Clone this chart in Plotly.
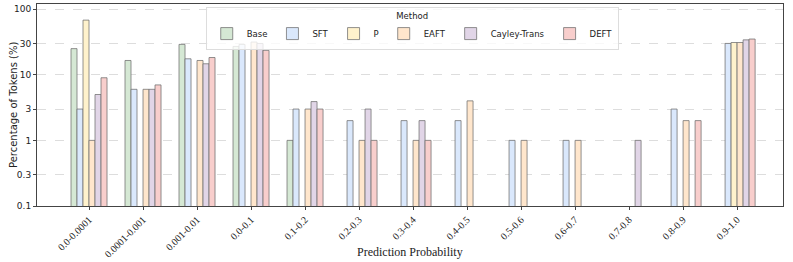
import plotly.graph_objects as go

categories = ["0.0-0.0001", "0.0001-0.001", "0.001-0.01", "0.0-0.1", "0.1-0.2", "0.2-0.3",
              "0.3-0.4", "0.4-0.5", "0.5-0.6", "0.6-0.7", "0.7-0.8", "0.8-0.9", "0.9-1.0"]

base   = [25, 16.5, 29, 27, 1, None, None, None, None, None, None, None, None]
sft    = [3, 6, 17.5, 29, 3, 2, 2, 2, 1, 1, None, 3, 30]
p      = [68, None, None, None, None, None, None, None, None, None, None, None, 31]
eaft   = [1, 6, 16.5, 31.5, 3, 1, 1, 4, 1, 1, None, 2, 31]
cayley = [5, 6, 14.7, 30, 3.9, 3, 2, None, None, None, 1, None, 34]
deft   = [9, 7, 18.3, 23.5, 3, 1, 1, None, None, None, None, 2, 35]

series = [("Base", base, "#d5e8d4"), ("SFT", sft, "#dae8fc"), ("P", p, "#fff2cc"),
          ("EAFT", eaft, "#ffe6cc"), ("Cayley-Trans", cayley, "#e1d5e7"), ("DEFT", deft, "#f8cecc")]

tick_vals = [0.1, 0.3, 1, 3, 10, 30, 100]
tick_text = ["0.1", "0.3", "1", "3", "10", "30", "100"]

fig = go.Figure()
for name, vals, color in series:
    fig.add_trace(go.Bar(
        x=categories, y=vals, name=name,
        marker=dict(color=color, line=dict(color="rgba(110,110,110,0.75)", width=1)),
    ))

W, H = 793, 262
ml, mr, mt, mb = 37, 10, 4, 56
fig.update_layout(
    width=W, height=H,
    margin=dict(l=ml, r=mr, t=mt, b=mb, autoexpand=False),
    plot_bgcolor="white", paper_bgcolor="white",
    barmode="group", bargap=0.333, bargroupgap=0,
    font=dict(family="DejaVu Sans", size=9, color="#222"),
    legend=dict(
        orientation="h", x=0.503, xanchor="center", y=0.985, yanchor="top",
        title=dict(text="Method", side="top center", font=dict(size=8.5)),
        font=dict(size=8.5), bgcolor="rgba(255,255,255,0.8)",
        bordercolor="#dddddd", borderwidth=1, itemwidth=30,
        tracegroupgap=0, valign="middle",
    ),
    showlegend=True,
    annotations=[
        dict(text="Prediction Probability", xref="paper", yref="paper",
             x=0.5, y=-(252 - (H - mb)) / (H - mt - mb), xanchor="center", yanchor="middle",
             showarrow=False, font=dict(family="Liberation Serif", size=12, color="#222")),
        dict(text="Percentage of Tokens (%)", xref="paper", yref="paper",
             x=-(ml - 13) / (W - ml - mr), y=0.5, xanchor="center", yanchor="middle",
             textangle=-90, showarrow=False,
             font=dict(family="DejaVu Sans", size=10, color="#222")),
    ],
)
fig.update_xaxes(
    range=[-0.963, 12.85], tickangle=-45, automargin=False,
    tickfont=dict(family="Liberation Serif", size=10, color="#222"),
    showline=True, linecolor="#444", linewidth=1, mirror=True,
    ticks="outside", ticklen=3, tickcolor="#444", showgrid=False,
)
fig.update_yaxes(
    type="log", range=[-1, 2.078], automargin=False,
    tickvals=tick_vals, ticktext=tick_text,
    tickfont=dict(family="DejaVu Sans", size=9, color="#222"),
    showline=True, linecolor="#444", linewidth=1, mirror=True,
    ticks="outside", ticklen=3, tickcolor="#444",
    showgrid=True, gridcolor="#dddddd", griddash="dash", gridwidth=0.7,
    zeroline=False,
)

fig.write_html("out.html", config={"displayModeBar": False},
               post_script="document.body.style.margin='0';document.body.style.overflow='hidden';")
